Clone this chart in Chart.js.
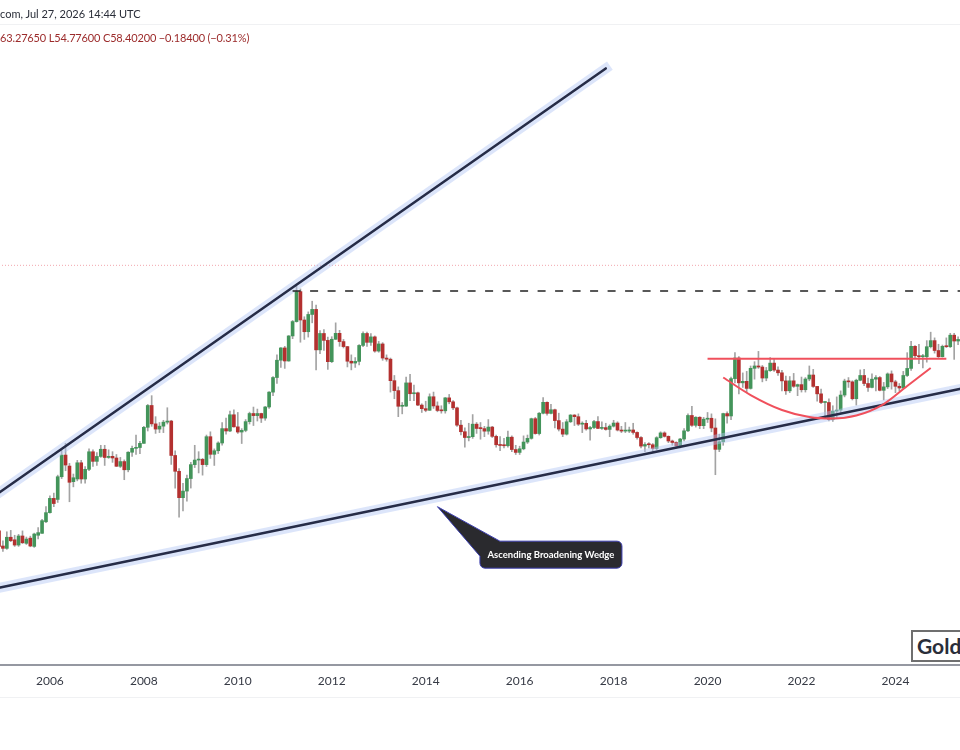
<!DOCTYPE html>
<html>
<head>
<meta charset="utf-8">
<title>Silver monthly - ascending broadening wedge</title>
<script src="https://cdn.jsdelivr.net/npm/chart.js@4.4.1/dist/chart.umd.min.js"></script>
<style>
  html, body { margin: 0; padding: 0; background: #fff; }
  #wrap { position: relative; width: 960px; height: 750px; overflow: hidden; background: #fff; }
  /* the x scale keeps 9px of tick padding on each side, so the canvas is widened and shifted */
  #chart { position: absolute; left: -10px; top: 0; }
  .hdr { position: absolute; left: 0; font-family: Lato, sans-serif; font-size: 11px; white-space: nowrap; }
  #hdr1 { top: 7px; color: #2a2e39; }
  #hdr2 { top: 31px; color: #9c2b2b; letter-spacing: -0.15px; }
  #sep { position: absolute; left: 0; top: 24px; width: 960px; height: 1px; background: #f0f1f3; }
  #foot { position: absolute; left: 0; top: 697px; width: 960px; height: 1px; background: #f0f1f3; }
  #logo { position: absolute; left: 911px; top: 630px; width: 90px; height: 28px; border: 2px solid #6f6f6f;
          font-family: Lato, sans-serif; font-weight: bold; font-size: 21px; color: #2a2e39; line-height: 28px;
          padding-left: 4px; background: #fff; }
</style>
</head>
<body>
<div id="wrap">
  <canvas id="chart" width="981" height="750"></canvas>
  <div id="sep"></div>
  <div class="hdr" id="hdr1">com, Jul 27, 2026 14:44 UTC</div>
  <div class="hdr" id="hdr2">63.27650 L54.77600 C58.40200 −0.18400 (−0.31%)</div>
  <div id="foot"></div>
  <div id="logo">Gold</div>
</div>
<script>
//data

//months on the x axis (one monthly candle each)
const months = [
	'2004-12',
	'2005-01','2005-02','2005-03','2005-04','2005-05','2005-06','2005-07','2005-08','2005-09','2005-10','2005-11','2005-12',
	'2006-01','2006-02','2006-03','2006-04','2006-05','2006-06','2006-07','2006-08','2006-09','2006-10','2006-11','2006-12',
	'2007-01','2007-02','2007-03','2007-04','2007-05','2007-06','2007-07','2007-08','2007-09','2007-10','2007-11','2007-12',
	'2008-01','2008-02','2008-03','2008-04','2008-05','2008-06','2008-07','2008-08','2008-09','2008-10','2008-11','2008-12',
	'2009-01','2009-02','2009-03','2009-04','2009-05','2009-06','2009-07','2009-08','2009-09','2009-10','2009-11','2009-12',
	'2010-01','2010-02','2010-03','2010-04','2010-05','2010-06','2010-07','2010-08','2010-09','2010-10','2010-11','2010-12',
	'2011-01','2011-02','2011-03','2011-04','2011-05','2011-06','2011-07','2011-08','2011-09','2011-10','2011-11','2011-12',
	'2012-01','2012-02','2012-03','2012-04','2012-05','2012-06','2012-07','2012-08','2012-09','2012-10','2012-11','2012-12',
	'2013-01','2013-02','2013-03','2013-04','2013-05','2013-06','2013-07','2013-08','2013-09','2013-10','2013-11','2013-12',
	'2014-01','2014-02','2014-03','2014-04','2014-05','2014-06','2014-07','2014-08','2014-09','2014-10','2014-11','2014-12',
	'2015-01','2015-02','2015-03','2015-04','2015-05','2015-06','2015-07','2015-08','2015-09','2015-10','2015-11','2015-12',
	'2016-01','2016-02','2016-03','2016-04','2016-05','2016-06','2016-07','2016-08','2016-09','2016-10','2016-11','2016-12',
	'2017-01','2017-02','2017-03','2017-04','2017-05','2017-06','2017-07','2017-08','2017-09','2017-10','2017-11','2017-12',
	'2018-01','2018-02','2018-03','2018-04','2018-05','2018-06','2018-07','2018-08','2018-09','2018-10','2018-11','2018-12',
	'2019-01','2019-02','2019-03','2019-04','2019-05','2019-06','2019-07','2019-08','2019-09','2019-10','2019-11','2019-12',
	'2020-01','2020-02','2020-03','2020-04','2020-05','2020-06','2020-07','2020-08','2020-09','2020-10','2020-11','2020-12',
	'2021-01','2021-02','2021-03','2021-04','2021-05','2021-06','2021-07','2021-08','2021-09','2021-10','2021-11','2021-12',
	'2022-01','2022-02','2022-03','2022-04','2022-05','2022-06','2022-07','2022-08','2022-09','2022-10','2022-11','2022-12',
	'2023-01','2023-02','2023-03','2023-04','2023-05','2023-06','2023-07','2023-08','2023-09','2023-10','2023-11','2023-12',
	'2024-01','2024-02','2024-03','2024-04','2024-05','2024-06','2024-07','2024-08','2024-09','2024-10','2024-11','2024-12',
	'2025-01','2025-02','2025-03','2025-04','2025-05','2025-06'
];

//years that get a tick label (placed on their January candle)
const tickYears = ['2006','2008','2010','2012','2014','2016','2018','2020','2022','2024'];

//monthly open / high / low / close
const opens = [
	7.56,
	6.72, 6.60, 7.19, 7.05, 6.77, 7.26, 6.86, 7.14, 6.70, 7.30, 7.41, 8.10,
	8.69, 9.70, 9.62, 11.46, 13.54, 12.44, 11.03, 11.26, 12.76, 11.26, 12.13, 13.89,
	12.90, 13.40, 14.16, 13.29, 13.41, 13.24, 12.42, 12.88, 12.09, 13.84, 14.26, 14.35,
	14.82, 16.77, 19.84, 17.22, 16.54, 16.92, 17.45, 17.60, 13.50, 11.95, 9.75, 10.26,
	11.30, 12.58, 13.03, 13.10, 12.58, 15.60, 13.62, 14.00, 14.86, 16.60, 16.30, 18.47,
	16.83, 16.17, 16.38, 17.52, 18.65, 18.35, 18.65, 18.00, 19.61, 21.99, 24.61, 28.12,
	30.91, 27.95, 33.90, 37.87, 47.70, 38.33, 35.02, 40.00, 41.59, 30.45, 34.55, 32.76,
	27.80, 33.04, 34.59, 32.46, 31.23, 27.90, 27.51, 27.86, 31.51, 34.55, 32.27, 33.66,
	30.17, 31.87, 28.59, 28.34, 24.02, 22.25, 19.72, 19.74, 23.61, 21.72, 21.87, 19.90,
	19.36, 19.12, 21.22, 19.77, 19.09, 19.04, 21.04, 20.41, 19.48, 17.05, 16.21, 15.50,
	15.60, 17.18, 16.62, 16.60, 16.28, 16.80, 15.64, 14.66, 14.58, 14.55, 15.54, 14.13,
	13.82, 14.21, 14.97, 15.40, 17.92, 15.98, 18.69, 20.33, 18.67, 19.20, 17.66, 16.54,
	15.91, 17.50, 18.43, 18.20, 17.18, 17.29, 16.56, 16.74, 17.53, 16.63, 16.73, 16.50,
	16.92, 17.33, 16.42, 16.29, 16.29, 16.43, 16.12, 15.50, 14.51, 14.69, 14.66, 14.24,
	15.48, 16.06, 15.64, 15.09, 14.92, 14.55, 15.32, 16.32, 18.37, 17.03, 18.12, 16.98,
	17.85, 17.98, 16.68, 14.15, 15.00, 18.64, 18.30, 24.40, 28.60, 23.62, 23.90, 22.63,
	26.41, 26.90, 26.68, 24.51, 25.94, 27.50, 26.06, 25.52, 23.98, 22.21, 23.99, 23.00,
	23.30, 22.40, 24.33, 25.09, 22.98, 21.70, 20.30, 20.30, 17.80, 19.00, 19.15, 21.50,
	23.95, 23.80, 20.90, 24.10, 25.00, 23.50, 22.80, 24.30, 24.60, 22.30, 22.90, 25.30,
	23.80, 23.00, 22.70, 25.00, 26.40, 31.30, 29.10, 28.90, 28.90, 31.20, 32.70, 30.30,
	28.90, 31.30, 31.20, 34.10, 32.60, 33.00
];
const highs = [
	7.80,
	7.00, 7.50, 7.58, 7.30, 7.35, 7.55, 7.20, 7.25, 7.42, 7.75, 8.25, 9.10,
	9.90, 10.10, 11.60, 14.10, 14.83, 12.70, 11.70, 13.00, 13.00, 12.40, 14.20, 14.10,
	13.80, 14.60, 14.60, 14.10, 13.90, 13.60, 13.30, 13.05, 13.90, 14.50, 15.80, 15.05,
	16.90, 20.00, 21.40, 18.20, 17.40, 17.70, 19.50, 17.70, 14.00, 12.20, 10.90, 11.60,
	12.80, 14.60, 13.90, 13.20, 15.80, 16.20, 14.20, 15.00, 17.40, 18.00, 19.00, 19.20,
	18.80, 16.60, 17.80, 18.85, 19.60, 19.30, 18.70, 19.70, 22.10, 24.80, 29.30, 31.00,
	31.30, 34.00, 38.20, 49.80, 48.70, 39.30, 40.80, 44.30, 43.00, 35.30, 35.60, 33.60,
	33.70, 37.50, 35.40, 33.00, 31.30, 29.30, 28.70, 31.70, 35.00, 34.90, 34.50, 33.90,
	32.50, 32.20, 29.30, 28.60, 25.00, 22.90, 20.30, 24.70, 25.20, 23.20, 22.00, 20.10,
	20.50, 21.70, 22.00, 20.40, 19.80, 21.10, 21.60, 20.60, 19.60, 17.70, 16.70, 17.30,
	18.50, 17.40, 17.40, 16.90, 17.80, 16.90, 15.80, 15.60, 15.40, 16.30, 15.70, 14.60,
	14.50, 15.70, 15.80, 18.00, 18.10, 18.80, 21.10, 20.40, 20.00, 19.30, 18.70, 17.40,
	17.80, 18.50, 18.50, 18.60, 17.50, 17.70, 16.90, 17.70, 18.20, 17.50, 17.30, 17.10,
	17.70, 17.50, 16.90, 17.40, 16.80, 17.30, 16.20, 15.60, 14.90, 14.90, 14.80, 15.60,
	16.20, 16.20, 15.70, 15.20, 15.00, 15.40, 16.60, 18.60, 19.70, 18.20, 18.20, 18.10,
	18.80, 18.60, 17.90, 15.90, 18.70, 18.90, 24.70, 29.80, 28.90, 25.50, 25.80, 26.90,
	27.80, 30.10, 27.00, 26.60, 28.70, 28.30, 26.70, 26.00, 24.90, 24.80, 25.40, 23.40,
	24.70, 24.60, 26.90, 26.20, 23.00, 22.50, 20.40, 20.90, 19.80, 21.20, 22.20, 24.30,
	24.60, 24.00, 24.30, 26.10, 26.20, 24.50, 25.30, 25.00, 24.80, 23.70, 25.50, 25.90,
	24.10, 23.50, 25.80, 29.80, 32.50, 31.50, 31.80, 29.40, 32.70, 34.90, 33.40, 31.80,
	31.60, 33.40, 34.60, 34.60, 33.70, 37.30
];
const lows = [
	6.50,
	6.45, 6.55, 6.95, 6.70, 6.70, 6.85, 6.80, 6.68, 6.65, 7.10, 7.40, 8.05,
	8.65, 9.10, 9.40, 11.30, 12.00, 9.45, 10.60, 11.10, 10.90, 10.90, 12.00, 12.40,
	12.50, 13.30, 12.50, 13.20, 12.80, 12.40, 12.30, 11.20, 11.90, 13.40, 13.60, 13.70,
	14.80, 16.30, 16.90, 16.00, 16.10, 16.10, 17.20, 12.60, 10.50, 8.40, 8.80, 9.50,
	10.50, 12.30, 11.80, 11.60, 12.40, 13.20, 12.50, 13.70, 14.60, 15.90, 16.20, 16.80,
	16.00, 14.80, 16.20, 17.20, 17.00, 17.60, 17.40, 17.70, 19.40, 21.40, 23.50, 26.60,
	26.40, 27.90, 33.20, 37.70, 32.30, 33.00, 33.60, 37.50, 26.10, 29.60, 30.30, 26.20,
	27.60, 33.00, 31.30, 30.90, 26.70, 26.10, 26.60, 27.10, 31.20, 31.30, 31.50, 29.90,
	29.90, 28.10, 27.90, 22.00, 20.90, 18.20, 18.60, 19.70, 20.60, 20.60, 19.80, 18.80,
	18.90, 19.10, 19.40, 18.90, 18.70, 18.70, 20.10, 19.20, 16.90, 15.80, 14.40, 15.10,
	15.40, 16.00, 15.30, 15.60, 15.90, 15.50, 14.40, 14.00, 14.30, 14.40, 13.90, 13.60,
	13.60, 14.10, 14.80, 15.30, 15.90, 15.80, 18.60, 18.40, 18.60, 16.70, 16.30, 15.60,
	15.80, 17.40, 17.00, 17.00, 16.10, 16.40, 15.20, 16.60, 16.60, 16.50, 16.40, 15.60,
	16.80, 16.30, 16.10, 16.10, 16.10, 15.90, 15.30, 14.30, 13.90, 14.30, 13.90, 14.10,
	15.40, 15.55, 14.90, 14.60, 14.30, 14.30, 15.10, 16.20, 16.90, 16.80, 16.60, 16.60,
	17.40, 16.20, 11.64, 13.90, 14.60, 17.30, 17.80, 23.60, 21.70, 22.80, 21.90, 22.50,
	24.30, 26.40, 23.80, 24.00, 25.80, 25.80, 25.00, 22.20, 21.60, 21.90, 22.80, 21.40,
	22.00, 22.00, 24.00, 22.80, 20.50, 20.10, 18.20, 17.60, 17.55, 18.10, 18.80, 21.20,
	22.80, 20.70, 19.90, 24.00, 23.10, 22.10, 22.70, 22.20, 22.20, 20.70, 22.60, 22.50,
	21.90, 22.20, 22.50, 24.80, 26.00, 28.60, 27.40, 26.50, 27.70, 30.90, 29.70, 28.70,
	28.80, 31.00, 31.00, 28.30, 31.70, 32.70
];
const closes = [
	6.70,
	6.60, 7.19, 7.00, 6.77, 7.26, 6.89, 7.09, 6.72, 7.37, 7.45, 8.17, 8.69,
	9.70, 9.32, 11.46, 13.54, 12.54, 10.98, 11.37, 12.76, 11.26, 12.13, 13.89, 12.90,
	13.40, 14.16, 13.29, 13.41, 13.24, 12.42, 12.88, 12.09, 13.84, 14.26, 14.35, 14.82,
	16.77, 19.84, 17.22, 16.54, 16.92, 17.45, 17.60, 13.50, 11.95, 9.75, 10.26, 11.30,
	12.58, 13.03, 13.10, 12.58, 15.60, 13.62, 14.00, 14.86, 16.60, 16.30, 18.47, 16.83,
	16.17, 16.38, 17.52, 18.65, 18.35, 18.65, 18.00, 19.61, 21.99, 24.61, 28.12, 30.91,
	27.95, 33.90, 37.87, 47.70, 38.33, 35.02, 40.00, 41.59, 30.45, 34.55, 32.76, 27.80,
	33.04, 34.59, 32.46, 31.23, 27.90, 27.51, 27.86, 31.51, 34.55, 32.27, 33.66, 30.17,
	31.87, 28.59, 28.34, 24.02, 22.25, 19.72, 19.74, 23.61, 21.72, 21.87, 19.90, 19.36,
	19.12, 21.22, 19.77, 19.09, 19.04, 21.04, 20.41, 19.48, 17.05, 16.21, 15.50, 15.60,
	17.18, 16.62, 16.60, 16.28, 16.80, 15.64, 14.66, 14.58, 14.55, 15.54, 14.13, 13.82,
	14.21, 14.97, 15.40, 17.92, 15.98, 18.69, 20.33, 18.67, 19.20, 17.66, 16.54, 15.91,
	17.50, 18.43, 18.20, 17.18, 17.29, 16.56, 16.74, 17.53, 16.63, 16.73, 16.50, 16.92,
	17.33, 16.42, 16.29, 16.29, 16.43, 16.12, 15.50, 14.51, 14.69, 14.66, 14.24, 15.48,
	16.06, 15.64, 15.09, 14.92, 14.55, 15.32, 16.32, 18.37, 17.03, 18.12, 16.98, 17.85,
	17.98, 16.68, 14.15, 15.00, 18.64, 18.30, 24.40, 28.60, 23.62, 23.90, 22.63, 26.41,
	26.90, 26.68, 24.51, 25.94, 27.50, 26.06, 25.52, 23.98, 22.21, 23.99, 23.00, 23.30,
	22.40, 24.33, 25.09, 22.98, 21.70, 20.30, 20.30, 17.80, 19.00, 19.15, 21.50, 23.95,
	23.80, 20.90, 24.10, 25.00, 23.50, 22.80, 24.30, 24.60, 22.30, 22.90, 25.30, 23.80,
	23.00, 22.70, 25.00, 26.40, 31.30, 29.10, 28.90, 28.90, 31.20, 32.70, 30.30, 28.90,
	31.30, 31.20, 34.10, 32.60, 33.00, 36.10
];

//drawings on the chart (month, price)
const upperWedge = [{x: '2004-12', y: 10.13}, {x: '2017-11', y: 266.2}];
const lowerWedge = [{x: '2004-12', y: 4.87}, {x: '2025-06', y: 22.6}];
const topLine = [{x: '2011-03', y: 47.9}, {x: '2025-06', y: 47.9}];
const neckline = [{x: '2020-01', y: 28.45}, {x: '2025-02', y: 28.45}];
const cupCurve = [
	{x: '2020-05', y: 24.61}, {x: '2020-12', y: 21.50}, {x: '2021-08', y: 19.16},
	{x: '2022-03', y: 18.15}, {x: '2022-09', y: 17.94}, {x: '2023-03', y: 18.36},
	{x: '2023-10', y: 20.06}, {x: '2024-04', y: 23.05}, {x: '2024-10', y: 26.48}
];
const lastPrice = 58.40;
const priceLine = [{x: '2004-12', y: lastPrice}, {x: '2025-06', y: lastPrice}];

//callout text and where its pointer lands
const calloutText = 'Ascending Broadening Wedge';
const calloutAt = {x: '2014-04', y: 9.10};

//y range of the (hidden) log price axis
const priceMin = 2.687;
const priceMax = 451;

/////////////////////////////////////////////////////////
//building the datasets

const green = '#43945a';
const red = '#b3302f';

let wickData = [];
let bodyData = [];
let bodyColors = [];
for (let i = 0; i < months.length; i++) {
	wickData.push([lows[i], highs[i]]);
	bodyData.push([opens[i], closes[i]]);
	bodyColors.push(closes[i] >= opens[i] ? green : red);
}

//draws the dark callout box with its pointer
const calloutPlugin = {
	id: 'callout',
	afterDatasetsDraw(chart) {
		const ctx = chart.ctx;
		const xs = chart.scales.x;
		const ys = chart.scales.y;
		const tipX = xs.getPixelForValue(months.indexOf(calloutAt.x));
		const tipY = ys.getPixelForValue(calloutAt.y);
		const bx = tipX + 42.5, by = tipY + 34.5, bw = 142, bh = 27, r = 5;

		ctx.save();
		ctx.beginPath();
		ctx.moveTo(tipX, tipY);
		ctx.lineTo(bx + 20, by);
		ctx.lineTo(bx + bw - r, by);
		ctx.arcTo(bx + bw, by, bx + bw, by + r, r);
		ctx.lineTo(bx + bw, by + bh - r);
		ctx.arcTo(bx + bw, by + bh, bx + bw - r, by + bh, r);
		ctx.lineTo(bx + r, by + bh);
		ctx.arcTo(bx, by + bh, bx, by + bh - r, r);
		ctx.lineTo(bx, by + 15);
		ctx.closePath();
		ctx.fillStyle = '#2a2a2e';
		ctx.fill();
		ctx.lineWidth = 1;
		ctx.strokeStyle = '#3d3fb0';
		ctx.stroke();

		ctx.fillStyle = '#ffffff';
		ctx.font = 'bold 9.5px Lato';
		ctx.textAlign = 'center';
		ctx.textBaseline = 'middle';
		ctx.fillText(calloutText, bx + bw / 2, by + bh / 2 + 0.5);
		ctx.restore();
	}
};

function lineSet(data, color, width, extra) {
	return Object.assign({
		type: 'line',
		data: data,
		borderColor: color,
		borderWidth: width,
		pointRadius: 0,
		pointHoverRadius: 0,
		fill: false,
		tension: 0
	}, extra || {});
}

Chart.defaults.font.family = 'Lato';

const ctx = document.getElementById('chart');
const chart = new Chart(ctx, {
	type: 'bar',
	data: {
		labels: months,
		datasets: [
			//candle wicks and bodies as floating bars
			{ data: wickData, backgroundColor: '#a3a3a3', barThickness: 1, grouped: false, order: 11 },
			{ data: bodyData, backgroundColor: bodyColors, barThickness: 3, grouped: false, minBarLength: 1, order: 10 },
			//drawings
			lineSet(priceLine, '#f2a7ae', 1, { borderDash: [1, 2], order: 9 }),
			lineSet(upperWedge, 'rgba(178,198,245,0.45)', 10, { borderCapStyle: 'square', order: 6 }),
			lineSet(lowerWedge, 'rgba(178,198,245,0.45)', 10, { order: 6 }),
			lineSet(upperWedge, '#262c47', 2.5, { borderCapStyle: 'round', order: 5 }),
			lineSet(lowerWedge, '#262c47', 2.5, { order: 5 }),
			lineSet(topLine, '#222222', 1.5, { borderDash: [8, 9.5], order: 4 }),
			lineSet(neckline, '#f0505c', 2, { order: 3 }),
			lineSet(cupCurve, '#f0505c', 2, { cubicInterpolationMode: 'monotone', order: 3 })
		]
	},
	options: {
		responsive: false,
		animation: false,
		layout: { autoPadding: false, padding: { top: 0, left: 0, right: 0, bottom: 50 } },
		plugins: {
			legend: { display: false },
			tooltip: { enabled: false }
		},
		scales: {
			x: {
				offset: false,
				grid: { display: false, drawTicks: false },
				border: { display: true, color: '#9598a1', width: 2 },
				ticks: {
					autoSkip: false,
					maxRotation: 0,
					padding: 9,
					color: '#363a45',
					font: { size: 12 },
					callback: function(value) {
						const lab = this.getLabelForValue(value);
						const yr = lab.slice(0, 4);
						return (lab.slice(5) === '01' && tickYears.indexOf(yr) !== -1) ? yr : '';
					}
				},
				afterFit: function(scale) { scale.height = 35; }
			},
			y: {
				type: 'logarithmic',
				display: false,
				min: priceMin,
				max: priceMax
			}
		}
	},
	plugins: [calloutPlugin]
});
</script>
</body>
</html>
